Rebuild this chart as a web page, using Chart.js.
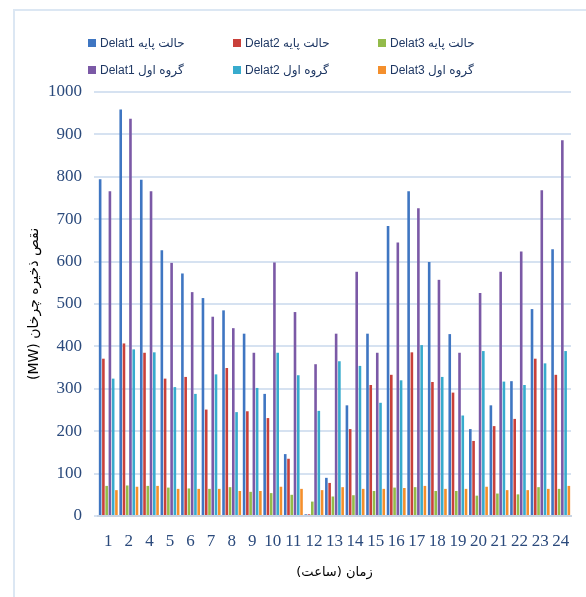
<!DOCTYPE html>
<html>
<head>
<meta charset="utf-8">
<script src="https://cdn.jsdelivr.net/npm/chart.js@4.4.1/dist/chart.umd.min.js"></script>
<style>
  html, body { margin: 0; padding: 0; background: #fff; }
  #wrap { position: relative; width: 586px; height: 597px; overflow: hidden; }
  #frame { position: absolute; left: 13px; top: 9px; width: 700px; height: 700px;
           border-left: 2px solid #dce7f3; border-top: 2px solid #dce7f3; }
  #chart4 { position: absolute; left: 0; top: 0; }
  #legend { position: absolute; left: 88px; top: 34px; width: 440px;
            display: grid; grid-template-columns: 145px 145px 145px; row-gap: 10px;
            font-family: "Liberation Sans", "DejaVu Sans", sans-serif; font-size: 12px; color: #1f3864; }
  #legend .item { display: flex; align-items: center; height: 17px; white-space: nowrap; }
  #legend .box { width: 8px; height: 8px; margin-right: 4px; }
</style>
</head>
<body>
<div id="wrap">
  <div id="frame"></div>
  <canvas id="chart4" width="586" height="597"></canvas>
  <div id="legend"></div>
</div>
<script>
// hours on the x axis (3 is missing in the original)
const hours = ['1','2','4','5','6','7','8','9','10','11','12','13','14','15','16','17','18','19','20','21','22','23','24'];

const base1 = [794, 959, 793, 627, 572, 514, 485, 430, 288, 146, 4, 90, 261, 430, 684, 766, 599, 429, 205, 261, 318, 488, 629];
const base2 = [371, 407, 385, 324, 328, 251, 349, 247, 231, 135, 4, 78, 205, 309, 333, 386, 316, 291, 177, 212, 229, 371, 333];
const base3 = [71, 72, 71, 67, 65, 64, 68, 57, 54, 50, 34, 46, 49, 59, 67, 68, 59, 59, 48, 53, 51, 68, 64];
const grp1 = [766, 937, 766, 597, 528, 470, 443, 385, 598, 481, 358, 430, 576, 385, 645, 726, 557, 385, 526, 576, 624, 768, 886];
const grp2 = [324, 393, 386, 304, 288, 334, 245, 302, 385, 332, 248, 365, 354, 267, 320, 403, 328, 237, 389, 317, 309, 360, 389];
const grp3 = [61, 69, 71, 64, 64, 64, 59, 59, 69, 64, 61, 68, 64, 64, 66, 71, 64, 64, 69, 61, 61, 64, 71];

const yTicks = [0, 100, 200, 300, 400, 500, 600, 700, 800, 900, 1000];

const colors = {
  base1: '#3f76c2', base2: '#c9403a', base3: '#93bb4a',
  grp1: '#7b59a6', grp2: '#37abcd', grp3: '#f48f2c'
};

const datasets = [
  { label: 'Delat1 حالت پایه', data: base1, backgroundColor: colors.base1 },
  { label: 'Delat2 حالت پایه', data: base2, backgroundColor: colors.base2 },
  { label: 'Delat3 حالت پایه', data: base3, backgroundColor: colors.base3 },
  { label: 'Delat1 گروه اول', data: grp1, backgroundColor: colors.grp1 },
  { label: 'Delat2 گروه اول', data: grp2, backgroundColor: colors.grp2 },
  { label: 'Delat3 گروه اول', data: grp3, backgroundColor: colors.grp3 }
];
datasets.forEach(d => { d.categoryPercentage = 0.95; d.barPercentage = 0.8; });

// html legend, row by row like the original
const legend = document.getElementById('legend');
datasets.forEach(d => {
  const item = document.createElement('div');
  item.className = 'item';
  const box = document.createElement('span');
  box.className = 'box';
  box.style.background = d.backgroundColor;
  const txt = document.createElement('span');
  txt.textContent = d.label;
  item.appendChild(box);
  item.appendChild(txt);
  legend.appendChild(item);
});

const ctx = document.getElementById('chart4').getContext('2d');
const myChart = new Chart(ctx, {
  type: 'bar',
  data: { labels: hours, datasets: datasets },
  options: {
    responsive: false,
    animation: false,
    layout: { padding: { top: 92, right: 15, bottom: 17, left: 26 } },
    plugins: { legend: { display: false }, tooltip: { enabled: false } },
    scales: {
      x: {
        afterFit: axis => { axis.height = 64; },
        grid: { display: false, drawTicks: false },
        border: { color: '#c9d4e2', width: 2 },
        ticks: {
          autoSkip: false, maxRotation: 0, padding: 15,
          color: '#2b4a7c',
          font: { family: '"Liberation Serif", serif', size: 17 }
        },
        title: {
          display: true, text: '\u200Fزمان (ساعت)\u200F', color: '#000',
          padding: { top: 0, bottom: 0 },
          font: { family: '"DejaVu Sans", sans-serif', size: 13 }
        }
      },
      y: {
        min: 0, max: 1000,
        afterBuildTicks: axis => { axis.ticks = yTicks.map(v => ({ value: v })); },
        afterFit: axis => { axis.width = 72; },
        grid: { color: '#d6e2f1', lineWidth: 2, tickLength: 4 },
        border: { display: false },
        ticks: {
          padding: 12, color: '#2b4a7c',
          callback: v => String(v),
          font: { family: '"Liberation Serif", serif', size: 17 }
        },
        title: {
          display: true, text: '(MW) نقص ذخیره چرخان', color: '#000',
          padding: { top: 0, bottom: 2 },
          font: { family: '"DejaVu Sans", sans-serif', size: 14 }
        }
      }
    }
  }
});
</script>
</body>
</html>
